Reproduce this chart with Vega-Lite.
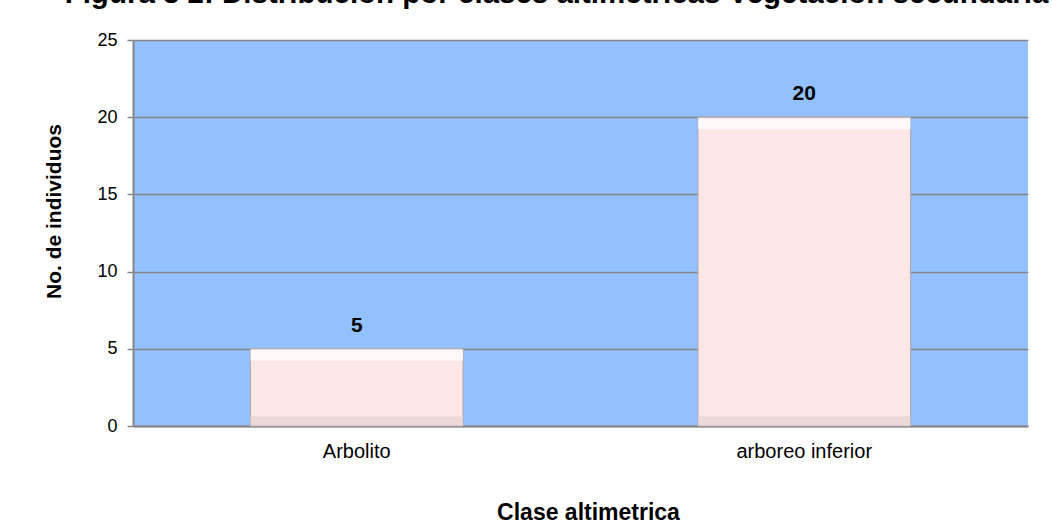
{
  "$schema": "https://vega.github.io/schema/vega-lite/v6.json",
  "autosize": "none",
  "width": 895,
  "height": 386,
  "padding": {"left": 133, "top": 40, "right": 24, "bottom": 105},
  "background": "white",
  "title": {
    "text": "Figura 3 2: Distribución por clases altimetricas Vegetación secundaria",
    "font": "Liberation Sans",
    "fontSize": 29.5,
    "fontWeight": "bold",
    "color": "#000000",
    "anchor": "middle",
    "frame": "group",
    "baseline": "alphabetic",
    "dx": -24,
    "offset": 0,
    "dy": 1
  },
  "data": {
    "values": [
      {"clase": "Arbolito", "n": 5},
      {"clase": "arboreo inferior", "n": 20}
    ]
  },
  "encoding": {
    "x": {
      "field": "clase",
      "type": "nominal",
      "sort": null,
      "scale": {"paddingInner": 0.525, "paddingOuter": 0.2625},
      "axis": {
        "title": "Clase altimetrica",
        "titleFont": "Liberation Sans",
        "titleFontSize": 23,
        "titleFontWeight": "bold",
        "titleColor": "#000000",
        "titlePadding": 40,
        "titleX": 455,
        "labelAngle": 0,
        "labelFont": "Liberation Sans",
        "labelFontSize": 20,
        "labelColor": "#000000",
        "labelPadding": 15,
        "ticks": false,
        "domainColor": "#868686",
        "domainWidth": 2
      }
    },
    "y": {
      "field": "n",
      "type": "quantitative",
      "scale": {"domain": [0, 25], "nice": false},
      "axis": {
        "title": "No. de individuos",
        "titleFont": "Liberation Sans",
        "titleFontSize": 21,
        "titleFontWeight": "bold",
        "titleColor": "#000000",
        "titlePadding": 32,
        "titleY": 171,
        "values": [0, 5, 10, 15, 20, 25],
        "labelFont": "Liberation Sans",
        "labelFontSize": 18,
        "labelColor": "#000000",
        "labelPadding": 10,
        "tickColor": "#868686",
        "tickSize": 6,
        "tickWidth": 1.5,
        "domainColor": "#868686",
        "domainWidth": 2,
        "grid": true,
        "gridColor": "#868686",
        "gridWidth": 1.5
      }
    }
  },
  "layer": [
    {
      "mark": {
        "type": "bar",
        "fill": "#FCE6E6",
        "stroke": "#B5A6A6",
        "strokeWidth": 1
      }
    },
    {
      "mark": {
        "type": "tick",
        "orient": "horizontal",
        "color": "#FFFFFF",
        "thickness": 11,
        "yOffset": 6.5
      }
    },
    {
      "mark": {
        "type": "tick",
        "orient": "horizontal",
        "color": "#E6D2D2",
        "thickness": 9,
        "yOffset": -5
      },
      "encoding": {"y": {"datum": 0}}
    },
    {
      "mark": {
        "type": "text",
        "font": "Liberation Sans",
        "fontSize": 21,
        "fontWeight": "bold",
        "color": "#000000",
        "baseline": "alphabetic",
        "dy": -17
      },
      "encoding": {"text": {"field": "n", "type": "quantitative"}}
    }
  ],
  "config": {
    "view": {"fill": "#93C0FF", "stroke": null}
  }
}
